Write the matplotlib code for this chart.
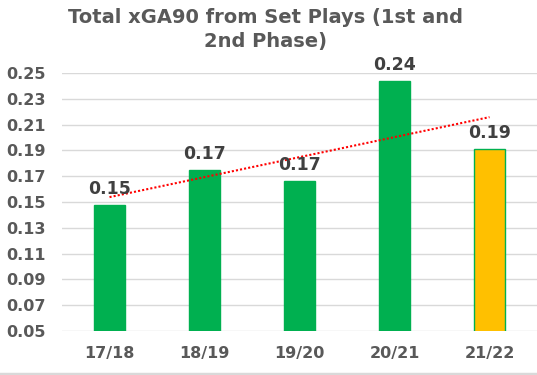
import numpy as np
import matplotlib.pyplot as plt
from matplotlib.lines import Line2D

# data
seasons = ["17/18", "18/19", "19/20", "20/21", "21/22"]
xga90 = [0.148, 0.175, 0.166, 0.244, 0.191]
labels = ["0.15", "0.17", "0.17", "0.24", "0.19"]
y_ticks = [0.05, 0.07, 0.09, 0.11, 0.13, 0.15, 0.17, 0.19, 0.21, 0.23, 0.25]

green = "#00B050"
yellow = "#FFC000"
grey_text = "#595959"

plt.rcParams["font.family"] = "DejaVu Sans"
plt.rcParams["font.weight"] = "bold"

fig = plt.figure(figsize=(5.37, 3.75), dpi=100)
ax = fig.add_axes([0.1155, 0.1173, 0.8845, 0.688])

x = np.arange(len(seasons))
colors = [green] * 4 + [yellow]
ax.bar(x, xga90, width=0.33, color=colors, edgecolor=green, linewidth=1, zorder=3)

# linear trendline like excel
k, b = np.polyfit(x + 1, xga90, 1)
ax.plot(x, k * (x + 1) + b, color="red", linestyle=(0, (1, 1)), linewidth=1.5, zorder=4)

for xi, v, t in zip(x, xga90, labels):
    ax.annotate(t, (xi, v), xytext=(0, 5), textcoords="offset points",
                ha="center", va="bottom", fontsize=12.5, fontweight="bold",
                color="#404040", clip_on=False, zorder=5)

ax.set_xlim(-0.5, 4.5)
ax.set_ylim(0.05, 0.25)
ax.set_yticks(y_ticks)
ax.set_yticklabels([f"{t:.2f}" for t in y_ticks])
ax.set_xticks(x)
ax.set_xticklabels(seasons)
ax.tick_params(length=0, labelsize=11.5, labelcolor=grey_text)
ax.tick_params(axis="y", pad=12)
ax.tick_params(axis="x", pad=11)
for lab in ax.get_xticklabels() + ax.get_yticklabels():
    lab.set_fontweight("bold")

ax.grid(axis="y", color="#D9D9D9", linewidth=1, zorder=0)
for s in ax.spines.values():
    s.set_visible(False)

fig.text(0.494, 0.921, "Total xGA90 from Set Plays (1st and\n2nd Phase)",
         ha="center", va="center", fontsize=14, fontweight="bold",
         color=grey_text, linespacing=1.3)

# light border line at the bottom of the chart area
fig.add_artist(Line2D([0, 1], [0.004, 0.004], color="#D9D9D9", linewidth=2.5,
                      transform=fig.transFigure))

fig.savefig("out.png", dpi=100)
